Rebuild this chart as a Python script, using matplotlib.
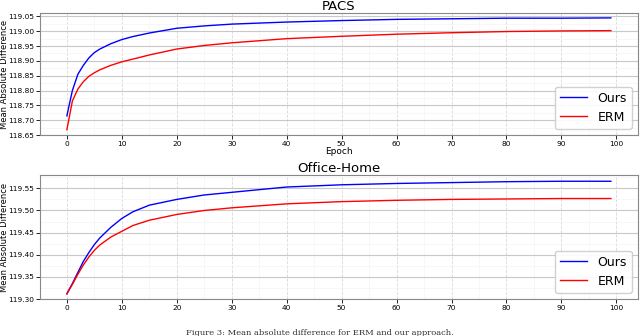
import matplotlib.pyplot as plt
from matplotlib.ticker import AutoMinorLocator, MultipleLocator

epochs = [0, 1, 2, 3, 4, 5, 6, 8, 10, 12, 15, 20, 25, 30, 40, 50, 60, 70, 80, 90, 99]

pacs_ours = [118.715, 118.800, 118.855, 118.885, 118.910, 118.928, 118.940, 118.958,
             118.972, 118.982, 118.994, 119.010, 119.018, 119.024, 119.031, 119.036,
             119.040, 119.042, 119.044, 119.044, 119.045]
pacs_erm = [118.668, 118.765, 118.805, 118.830, 118.848, 118.860, 118.870, 118.885,
            118.897, 118.906, 118.920, 118.940, 118.952, 118.961, 118.975, 118.983,
            118.990, 118.995, 118.999, 119.001, 119.002]

office_ours = [119.312, 119.335, 119.360, 119.385, 119.405, 119.423, 119.438, 119.462,
               119.482, 119.497, 119.512, 119.525, 119.535, 119.541, 119.553, 119.558,
               119.561, 119.563, 119.565, 119.566, 119.566]
office_erm = [119.312, 119.333, 119.356, 119.377, 119.395, 119.410, 119.422, 119.440,
              119.453, 119.466, 119.478, 119.491, 119.500, 119.506, 119.515, 119.520,
              119.523, 119.525, 119.526, 119.527, 119.527]

titles = ["PACS", "Office-Home"]
series = [(pacs_ours, pacs_erm), (office_ours, office_erm)]

fig = plt.figure(figsize=(6.4, 3.36), dpi=100)
ax1 = fig.add_axes([0.062, 0.598, 0.935, 0.362])
ax2 = fig.add_axes([0.062, 0.110, 0.935, 0.369])

for ax, title, (ours, erm) in zip([ax1, ax2], titles, series):
    ax.plot(epochs, ours, color="blue", lw=1.0, label="Ours")
    ax.plot(epochs, erm, color="red", lw=1.0, label="ERM")
    ax.set_title(title, fontsize=9.5, pad=1)
    ax.set_ylabel("Mean Absolute Difference", fontsize=6)
    ax.tick_params(labelsize=5.3, length=3, width=0.6, pad=1)
    ax.xaxis.set_major_locator(MultipleLocator(10))
    ax.yaxis.set_major_locator(MultipleLocator(0.05))
    ax.yaxis.set_major_formatter(plt.FormatStrFormatter("%.2f"))
    ax.xaxis.set_minor_locator(AutoMinorLocator(2))
    ax.yaxis.set_minor_locator(AutoMinorLocator(2))
    ax.tick_params(which="minor", length=0)
    ax.grid(axis="y", which="major", color="#c8c8c8", lw=0.8)
    ax.grid(axis="x", which="major", color="#d8d8d8", lw=0.6, ls="--")
    ax.grid(which="minor", color="#f4f4f4", lw=0.5)
    for s in ax.spines.values():
        s.set_color("#888888")
        s.set_linewidth(0.8)
    ax.legend(loc="lower right", fontsize=9, handlelength=2.2, framealpha=0.9)
    # y label sits between the figure edge and the tick labels
    ax.yaxis.set_label_coords(-0.0505, 0.5)

ax1.set_ylim(118.65, 119.06)
ax2.set_ylim(119.30, 119.58)
ax1.set_xlabel("Epoch", fontsize=6.5, labelpad=0)

fig.text(0.5, 0.008, "Figure 3: Mean absolute difference for ERM and our approach.",
         ha="center", va="center", fontsize=6, family="serif", color="#333333")

fig.savefig("out.png", dpi=100)
